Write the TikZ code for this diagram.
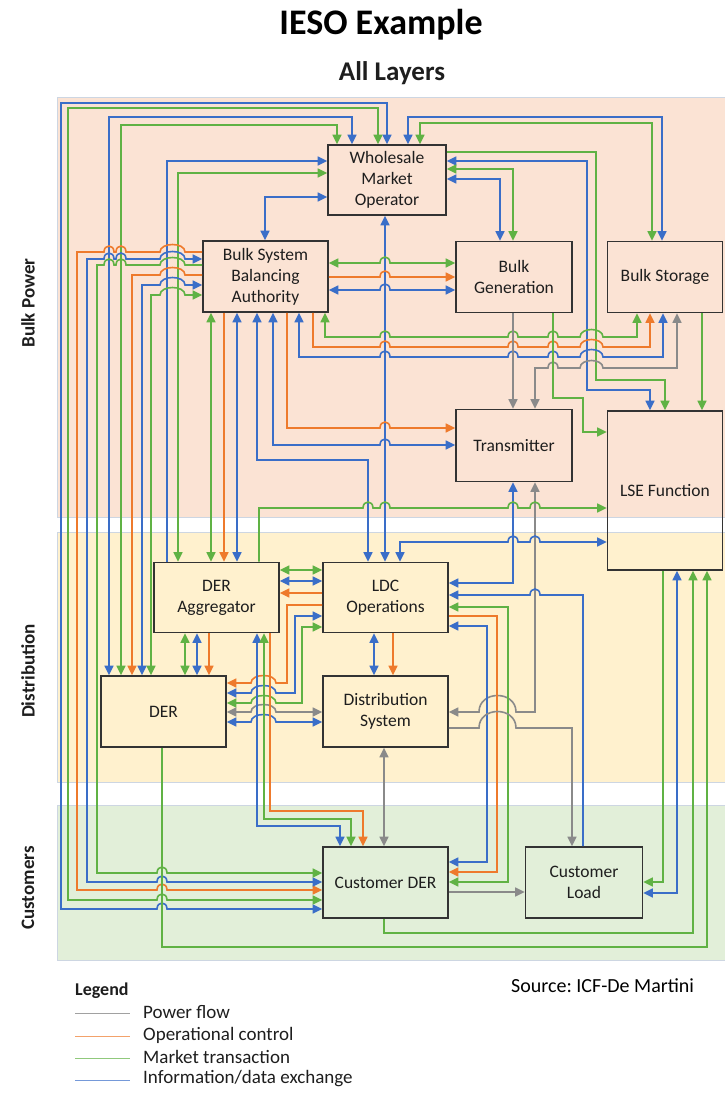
\documentclass[tikz,border=0pt]{standalone}
\usepackage{fontspec}
\setmainfont{Carlito}
\usetikzlibrary{arrows.meta}
\frenchspacing

\definecolor{bulkbg}{RGB}{251,227,212}
\definecolor{distbg}{RGB}{255,241,206}
\definecolor{custbg}{RGB}{226,239,217}
\definecolor{bandedge}{RGB}{205,214,226}
\definecolor{cB}{RGB}{58,110,200}
\definecolor{cG}{RGB}{96,178,68}
\definecolor{cO}{RGB}{238,122,44}
\definecolor{cP}{RGB}{138,138,138}
\definecolor{txt}{RGB}{30,30,30}

% small hop over a vertical line at x=#1 on a horizontal line at y=#2
\newcommand\hopR[2]{-- ({#1-5},#2) .. controls ({#1-5},{#2-8}) and ({#1+5},{#2-8}) .. ({#1+5},#2)}
\newcommand\hopL[2]{-- ({#1+5},#2) .. controls ({#1+5},{#2-8}) and ({#1-5},{#2-8}) .. ({#1-5},#2)}
% wider arch from x=#1 to x=#2 at y=#3, control height #4
\newcommand\arch[4]{-- (#1,#3) .. controls (#1,{#3-#4}) and (#2,{#3-#4}) .. (#2,#3)}

\tikzset{
  box/.style={draw=black!80, line width=1.6pt, align=center, text=txt,
    font=\fontsize{17.5}{21}\selectfont, inner sep=0pt},
  conn/.style={line width=1.6pt},
  info/.style={conn, draw=cB},
  mkt/.style={conn, draw=cG},
  ctl/.style={conn, draw=cO},
  pwr/.style={conn, draw=cP},
  band/.style={draw=bandedge, line width=0.8pt},
  lane/.style={rotate=90, font=\fontsize{19}{22}\selectfont\bfseries, text=txt},
  legline/.style={line width=1pt},
  legtext/.style={anchor=west, font=\fontsize{19}{22}\selectfont, text=txt, inner sep=0pt},
  >={Triangle[length=9.5pt,width=9pt]},
}

\begin{document}
\begin{tikzpicture}[x=1pt,y=-1pt]
\useasboundingbox (0,0) rectangle (725,1093);
\fill[white] (0,0) rectangle (725,1093);

% layer bands
\filldraw[band, fill=bulkbg] (57,97) rectangle (727,517);
\filldraw[band, fill=distbg] (57,532) rectangle (727,782);
\filldraw[band, fill=custbg] (57,805) rectangle (727,960);

% titles
\node[font=\fontsize{36}{40}\selectfont\bfseries, text=black] (title) at (381,25) {IESO Example};
\node[font=\fontsize{27}{30}\selectfont\bfseries, text=txt] (sub) at (392,73) {All Layers};

% lane labels
\node[lane] (lbulk) at (28,303) {Bulk Power};
\node[lane] (ldist) at (28,671) {Distribution};
\node[lane] (lcust) at (28,888) {Customers};

% actors
\node[box, minimum width=118, minimum height=70] (wmo) at (387,180) {Wholesale\\Market\\Operator};
\node[box, minimum width=125, minimum height=71] (bsba) at (265.5,276.5) {Bulk System\\Balancing\\Authority};
\node[box, minimum width=116, minimum height=71] (bgen) at (514,277) {Bulk\\Generation};
\node[box, minimum width=115, minimum height=71] (bsto) at (665,277) {Bulk Storage};
\node[box, minimum width=116, minimum height=72] (trans) at (514,445.5) {Transmitter};
\node[box, minimum width=115, minimum height=159] (lse) at (665,490.5) {LSE Function};
\node[box, minimum width=125, minimum height=70] (dera) at (216.5,597.5) {DER\\Aggregator};
\node[box, minimum width=125, minimum height=70] (ldc) at (385.5,597.5) {LDC\\Operations};
\node[box, minimum width=125, minimum height=71] (der) at (163.5,711.5) {DER};
\node[box, minimum width=125, minimum height=71] (dsys) at (385.5,711.5) {Distribution\\System};
\node[box, minimum width=125, minimum height=71] (cder) at (385.5,882.5) {Customer DER};
\node[box, minimum width=117, minimum height=71] (cload) at (584,882.5) {Customer\\Load};

% ---- links from the top of the market operator
\draw[info,<->] (wmo.north -| 387,0) -- (387,103) -- (61,103) -- (61,909) \hopR{162}{909} -- (cder.west |- 0,909);
\draw[mkt,<->] (wmo.north -| 378,0) -- (378,108) -- (68,108) -- (68,900) \hopR{162}{900} -- (cder.west |- 0,900);
\draw[info,<->] (wmo.north -| 352,0) -- (352,117) -- (109,117) -- (der.north -| 109,0);
\draw[mkt,<->] (wmo.north -| 337,0) -- (337,125) -- (121,125) -- (der.north -| 121,0);
\draw[info,<->] (wmo.north -| 408,0) -- (408,117) -- (662,117) -- (bsto.north -| 662,0);
\draw[mkt,<->] (wmo.north -| 420,0) -- (420,123) -- (652,123) -- (bsto.north -| 652,0);

% ---- market operator, left side
\draw[info,<-] (wmo.west |- 0,161) -- (167,161) -- (dera.north -| 167,0);
\draw[mkt,<->] (wmo.west |- 0,173) -- (178,173) -- (dera.north -| 178,0);
\draw[info,<->] (wmo.west |- 0,197) -- (265,197) -- (bsba.north -| 265,0);

% ---- market operator, right side
\draw[mkt,->] (wmo.east |- 0,152) -- (596,152) -- (596,380) -- (665,380) -- (lse.north -| 665,0);
\draw[info,<->] (wmo.east |- 0,161) -- (587,161) -- (587,390) -- (650,390) -- (lse.north -| 650,0);
\draw[mkt,<->] (wmo.east |- 0,169) -- (513,169) -- (bgen.north -| 513,0);
\draw[info,<->] (wmo.east |- 0,179) -- (500,179) -- (bgen.north -| 500,0);

% ---- market operator down to LDC operations
\draw[info,<->] (wmo.south -| 385,0) -- (ldc.north -| 385,0);

% ---- balancing authority <-> bulk generation
\draw[mkt,<->] (bsba.east |- 0,263) \hopR{385}{263} -- (bgen.west |- 0,263);
\draw[ctl,->] (bsba.east |- 0,277) \hopR{385}{277} -- (bgen.west |- 0,277);
\draw[info,<->] (bsba.east |- 0,290) \hopR{385}{290} -- (bgen.west |- 0,290);

% ---- balancing authority, left side: to customer DER
\draw[ctl,->] (bsba.west |- 0,252) \arch{185}{160}{252}{10} \hopL{121}{252} \hopL{109}{252} -- (77,252) -- (77,890) \hopR{162}{890} -- (cder.west |- 0,890);
\draw[info,<->] (bsba.west |- 0,259) \arch{185}{160}{259}{10} \hopL{121}{259} \hopL{109}{259} -- (87,259) -- (87,882) \hopR{162}{882} -- (cder.west |- 0,882);
\draw[mkt,->] (bsba.west |- 0,265) \arch{185}{160}{265}{10} \hopL{121}{265} \hopL{109}{265} -- (97,265) -- (97,873) \hopR{162}{873} -- (cder.west |- 0,873);

% ---- balancing authority, left side: to DER
\draw[ctl,->] (bsba.west |- 0,275) \arch{185}{160}{275}{10} -- (132,275) -- (der.north -| 132,0);
\draw[info,<->] (bsba.west |- 0,285) \arch{185}{160}{285}{10} -- (142,285) -- (der.north -| 142,0);
\draw[mkt,<->] (bsba.west |- 0,295) \arch{185}{160}{295}{10} -- (151,295) -- (der.north -| 151,0);

% ---- balancing authority, bottom side
\draw[mkt,<->] (bsba.south -| 211,0) -- (dera.north -| 211,0);
\draw[ctl,->] (bsba.south -| 224,0) -- (dera.north -| 224,0);
\draw[info,<->] (bsba.south -| 237,0) -- (dera.north -| 237,0);
\draw[info,<->] (bsba.south -| 257,0) -- (257,460) -- (368,460) -- (ldc.north -| 368,0);
\draw[info,<->] (bsba.south -| 273,0) -- (273,445) \hopR{385}{445} -- (trans.west |- 0,445);
\draw[ctl,->] (bsba.south -| 287,0) -- (287,428) \hopR{385}{428} -- (trans.west |- 0,428);
\draw[info,<->] (bsba.south -| 299,0) -- (299,357) \hopR{385}{357} \hopR{513}{357} \hopR{553}{357} \arch{580}{603}{357}{10} -- (663,357) -- (bsto.south -| 663,0);
\draw[ctl,->] (bsba.south -| 313,0) -- (313,347) \hopR{385}{347} \hopR{513}{347} \hopR{553}{347} \arch{580}{603}{347}{10} -- (650,347) -- (bsto.south -| 650,0);
\draw[mkt,<->] (bsba.south -| 325,0) -- (325,337) \hopR{385}{337} \hopR{513}{337} \hopR{553}{337} \arch{580}{603}{337}{10} -- (637,337) -- (bsto.south -| 637,0);

% ---- bulk generation / storage / transmitter / LSE
\draw[pwr,<->] (bsto.south -| 677,0) -- (677,368) \arch{603}{580}{368}{10} \hopL{553}{368} -- (535,368) -- (trans.north -| 535,0);
\draw[pwr,->] (bgen.south -| 513,0) -- (trans.north -| 513,0);
\draw[mkt,->] (bgen.south -| 553,0) -- (553,398) -- (583,398) -- (583,432) -- (lse.west |- 0,432);
\draw[mkt,->] (bsto.south -| 702,0) -- (lse.north -| 702,0);

% ---- transmitter, bottom side
\draw[info,<->] (trans.south -| 513,0) -- (513,583) -- (ldc.east |- 0,583);
\draw[pwr,<->] (trans.south -| 535,0) -- (535,712) \arch{516}{479}{712}{22} -- (dsys.east |- 0,712);

% ---- LSE function, left side
\draw[mkt,->] (dera.north -| 259,0) -- (259,508) \hopR{368}{508} \hopR{385}{508} \hopR{513}{508} \hopR{535}{508} -- (lse.west |- 0,508);
\draw[info,<->] (ldc.north -| 400,0) -- (400,542) \hopR{513}{542} \hopR{535}{542} -- (lse.west |- 0,542);

% ---- LDC operations, right side
\draw[info,<-] (ldc.east |- 0,595) \hopR{535}{595} -- (583,595) -- (cload.north -| 583,0);
\draw[mkt,<->] (ldc.east |- 0,607) -- (508,607) -- (508,882) -- (cder.east |- 0,882);
\draw[ctl,->] (ldc.east |- 0,616) -- (497,616) -- (497,872) -- (cder.east |- 0,872);
\draw[info,<->] (ldc.east |- 0,626) -- (487,626) -- (487,862) -- (cder.east |- 0,862);

% ---- distribution system
\draw[pwr,->] (dsys.east |- 0,728) \arch{479}{516}{728}{22} -- (572,728) -- (cload.north -| 572,0);
\draw[info,<->] (ldc.south -| 374,0) -- (dsys.north -| 374,0);
\draw[ctl,->] (ldc.south -| 393,0) -- (dsys.north -| 393,0);
\draw[pwr,<->] (dsys.south -| 384,0) -- (cder.north -| 384,0);
\draw[pwr,->] (cder.east |- 0,892) -- (cload.west |- 0,892);

% ---- LSE function, bottom side
\draw[mkt,->] (lse.south -| 663,0) -- (663,882) -- (cload.east |- 0,882);
\draw[info,<->] (lse.south -| 677,0) -- (677,893) -- (cload.east |- 0,893);
\draw[mkt,->] (cder.south -| 384,0) -- (384,933) -- (693,933) -- (lse.south -| 693,0);
\draw[mkt,->] (der.south -| 162,0) -- (162,947) -- (707,947) -- (lse.south -| 707,0);

% ---- DER aggregator <-> LDC operations
\draw[mkt,<->] (dera.east |- 0,570) -- (ldc.west |- 0,570);
\draw[info,<->] (dera.east |- 0,581) -- (ldc.west |- 0,581);
\draw[ctl,->] (ldc.west |- 0,593) -- (dera.east |- 0,593);

% ---- LDC operations -> DER, DER <-> distribution system
\draw[ctl,->] (ldc.west |- 0,605) -- (287,605) -- (287,683) \arch{276}{251}{683}{10} -- (der.east |- 0,683);
\draw[info,<->] (ldc.west |- 0,616) -- (295,616) -- (295,693) \arch{276}{251}{693}{10} -- (der.east |- 0,693);
\draw[mkt,<->] (ldc.west |- 0,627) -- (302,627) -- (302,703) \arch{276}{251}{703}{10} -- (der.east |- 0,703);
\draw[pwr,<->] (der.east |- 0,712) \arch{251}{276}{712}{10} -- (dsys.west |- 0,712);
\draw[info,<->] (der.east |- 0,722) \arch{251}{276}{722}{10} -- (dsys.west |- 0,722);

% ---- DER aggregator <-> DER
\draw[mkt,<->] (dera.south -| 185,0) -- (der.north -| 185,0);
\draw[info,<->] (dera.south -| 197,0) -- (der.north -| 197,0);
\draw[ctl,->] (dera.south -| 209,0) -- (der.north -| 209,0);

% ---- DER aggregator -> customer DER
\draw[info,<->] (dera.south -| 257,0) -- (257,826) -- (340,826) -- (cder.north -| 340,0);
\draw[mkt,<->] (dera.south -| 264,0) -- (264,819) -- (351,819) -- (cder.north -| 351,0);
\draw[ctl,->] (dera.south -| 270,0) -- (270,811) -- (363,811) -- (cder.north -| 363,0);

% ---- legend and source
\node[anchor=west, font=\fontsize{18}{21}\selectfont\bfseries, text=txt, inner sep=0pt] (leg) at (75,991) {Legend};
\coordinate (l1) at (75,1013); \coordinate (l2) at (75,1036); \coordinate (l3) at (75,1058); \coordinate (l4) at (75,1080);
\draw[legline, draw=cP!80] (l1) -- ++(55,0);
\draw[legline, draw=cO!70] (l2) -- ++(55,0);
\draw[legline, draw=cG!70] (l3) -- ++(55,0);
\draw[legline, draw=cB!70] (l4) -- ++(55,0);
\node[legtext] (t1) at (143,1012) {Power flow};
\node[legtext] (t2) at (143,1035) {Operational control};
\node[legtext] (t3) at (143,1057) {Market transaction};
\node[legtext] (t4) at (143,1079) {Information/data exchange};
\node[anchor=west, font=\fontsize{20}{23}\selectfont, text=black, inner sep=0pt] (src) at (511,986) {Source: ICF-De Martini};
\end{tikzpicture}
\end{document}
